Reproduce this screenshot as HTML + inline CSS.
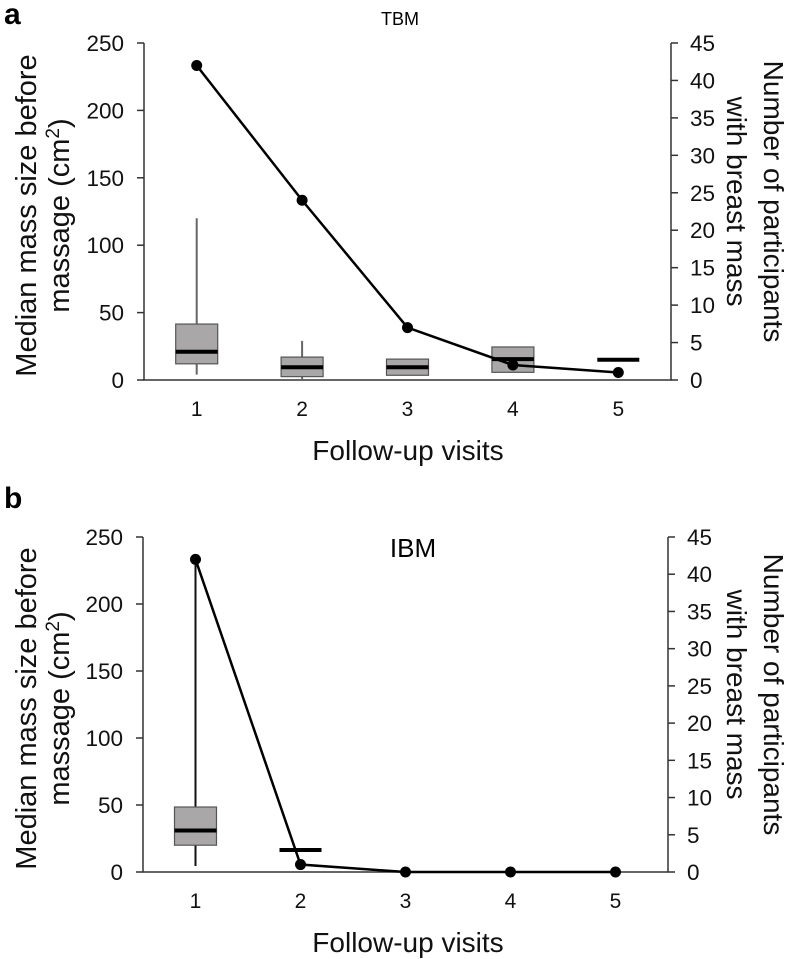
<!DOCTYPE html>
<html><head><meta charset="utf-8"><style>
html,body{margin:0;padding:0;background:#fff;}
svg{display:block;font-family:"Liberation Sans",Arial,sans-serif;}
</style></head><body>
<svg id="chart" width="786" height="959" viewBox="0 0 786 959"></svg>
<script>
const categories = ["1","2","3","4","5"];
const leftTicks = [0,50,100,150,200,250];
const rightTicks = [0,5,10,15,20,25,30,35,40,45];
// Panel a (TBM)
const aBoxLow = [4,0,null,null,null];
const aQ1 = [12,2.5,3.5,5.7,null];
const aMedian = [21,9.5,9.5,15.5,15];
const aQ3 = [41.5,17,15.5,24.5,null];
const aBoxHigh = [120,29,null,null,null];
const aCount = [42,24,7,2,1];
// Panel b (IBM)
const bBoxLow = [4.5,null,null,null,null];
const bQ1 = [20,null,null,null,null];
const bMedian = [31,16.4,null,null,null];
const bQ3 = [48.5,null,null,null,null];
const bBoxHigh = [232,null,null,null,null];
const bCount = [42,1,0,0,0];

const NS="http://www.w3.org/2000/svg";
const svg=document.getElementById('chart');
function mk(tag,attrs,parent,text){const e=document.createElementNS(NS,tag);for(const k in attrs)e.setAttribute(k,attrs[k]);if(text!==undefined)e.textContent=text;(parent||svg).appendChild(e);return e;}

function panel(p){
  const g=mk('g',{});
  
  
  const yL=v=>p.y0-(p.y0-p.y250)*v/250;
  const yR=v=>p.y0-(p.y0-p.y250)*v/45;
  const step=(p.xr-p.xl)/categories.length;
  const xC=i=>p.xl+step*(i+0.5);
  const l=mk('text',{x:4,y:p.letterY,'font-size':30,'font-weight':'bold'},g,p.id);
  
  
  const t=mk('text',{x:p.titleX,y:p.titleY,'font-size':p.titleSize,'text-anchor':'middle'},g,p.title);
  
  
  const ax=mk('path',{d:`M${p.xl},${p.y250}V${p.y0}H${p.xr}V${p.y250}`,stroke:'#333',fill:'none','stroke-width':1.5},g);
  
  
  leftTicks.forEach(v=>{
    const y=yL(v);
    mk('line',{x1:p.xl-7,x2:p.xl,y1:y,y2:y,stroke:'#333','stroke-width':1.5},g);
    const tx=mk('text',{x:p.xl-20,y:y+8,'font-size':22.5,'text-anchor':'end',fill:'#111'},g,v);
    
    
  });
  rightTicks.forEach(v=>{
    const y=yR(v);
    mk('line',{x1:p.xr,x2:p.xr+7,y1:y,y2:y,stroke:'#333','stroke-width':1.5},g);
    const tx=mk('text',{x:p.xr+19,y:y+8,'font-size':22.5,fill:'#111'},g,v);
    
    
  });
  categories.forEach((c,i)=>{
    const tx=mk('text',{x:xC(i),y:p.y0+36,'font-size':21,'text-anchor':'middle',fill:'#111'},g,c);
    
    
  });
  const xt=mk('text',{x:408,y:p.y0+80,'font-size':28,'text-anchor':'middle',fill:'#111'},g,'Follow-up visits');
  
  
  const cy=(p.y0+p.y250)/2+4;
  const lt=mk('text',{transform:`translate(36,${cy}) rotate(-90)`,'font-size':29,'text-anchor':'middle',fill:'#111'},g,'Median mass size before');
  
  
  const lt2=mk('text',{transform:`translate(69,${cy}) rotate(-90)`,'font-size':29,'text-anchor':'middle',fill:'#111'},g);
  lt2.innerHTML='massage (cm<tspan dy="-10" font-size="19">2</tspan><tspan dy="10">)</tspan>';
  
  
  const rt=mk('text',{transform:`translate(764,${cy-14}) rotate(90)`,'font-size':28,'text-anchor':'middle',fill:'#111'},g,'Number of participants');
  
  
  const rt2=mk('text',{transform:`translate(727,${cy-14}) rotate(90)`,'font-size':28,'text-anchor':'middle',fill:'#111'},g,'with breast mass');
  
  
  const bw=42;
  categories.forEach((c,i)=>{
    const x=xC(i);
    if(p.low[i]!=null && p.high[i]!=null){
      const w=mk('line',{x1:x,x2:x,y1:yL(p.high[i]),y2:yL(p.low[i]),stroke:p.whisk,'stroke-width':2},g);
      
      
    }
    if(p.q1[i]!=null){
      const b=mk('rect',{x:x-bw/2,y:yL(p.q3[i]),width:bw,height:yL(p.q1[i])-yL(p.q3[i]),fill:'#a9a7a7',stroke:'#555','stroke-width':1.2},g);
      
      
    }
    if(p.med[i]!=null){
      const m=mk('line',{x1:x-bw/2,x2:x+bw/2,y1:yL(p.med[i]),y2:yL(p.med[i]),stroke:'#000','stroke-width':4},g);
      
      
    }
  });
  const pts=p.count.map((v,i)=>xC(i)+','+yR(v)).join(' ');
  const pl=mk('polyline',{points:pts,fill:'none',stroke:'#000','stroke-width':2.5},g);
  
  
  p.count.forEach((v,i)=>{
    const d=mk('circle',{cx:xC(i),cy:yR(v),r:5.5,fill:'#000'},g);
    
    
  });
}
panel({id:'a',title:'TBM',titleX:400,titleY:25,titleSize:18,letterY:24,xl:144,xr:671,y0:380,y250:43,
  low:aBoxLow,q1:aQ1,med:aMedian,q3:aQ3,high:aBoxHigh,count:aCount,whisk:'#666'});
panel({id:'b',title:'IBM',titleX:413,titleY:557,titleSize:26,letterY:508,xl:143,xr:668,y0:872,y250:537,
  low:bBoxLow,q1:bQ1,med:bMedian,q3:bQ3,high:bBoxHigh,count:bCount,whisk:'#111'});
</script>
</body></html>
